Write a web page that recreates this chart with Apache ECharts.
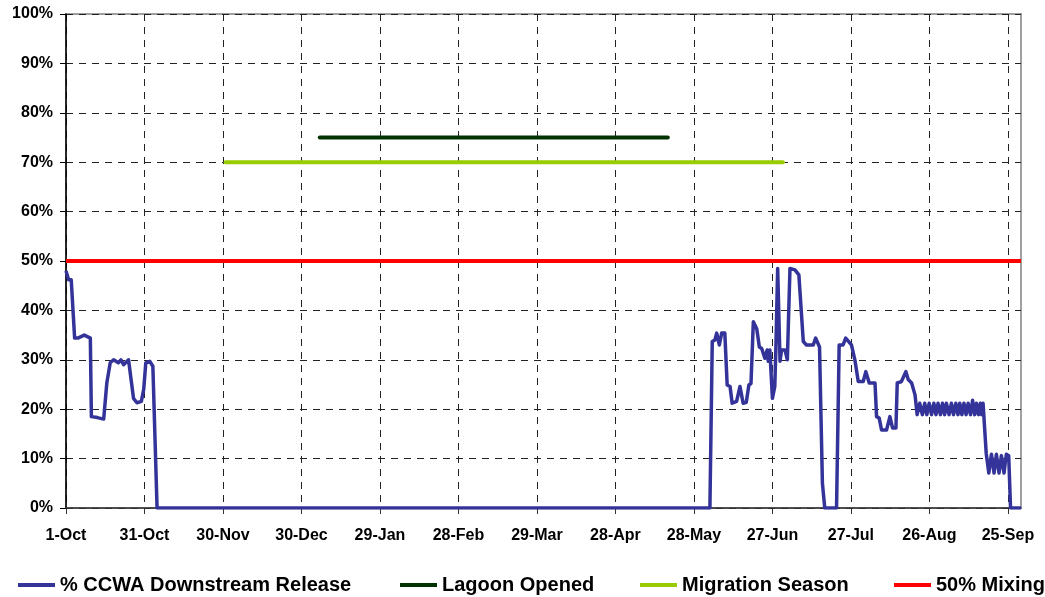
<!DOCTYPE html>
<html>
<head>
<meta charset="utf-8">
<script src="https://cdn.jsdelivr.net/npm/echarts@6/dist/echarts.min.js"></script>
<style>
  html, body { margin: 0; padding: 0; background: #fff; }
  #chart { width: 1045px; height: 597px; }
</style>
</head>
<body>
<div id="chart"></div>
<script>
// days counted from 1-Oct, ticks every 30 days
const tickLabels = ['1-Oct', '31-Oct', '30-Nov', '30-Dec', '29-Jan', '28-Feb', '29-Mar',
  '28-Apr', '28-May', '27-Jun', '27-Jul', '26-Aug', '25-Sep']
const tickDays = tickLabels.map((t, i) => i * 30)

// [day, percent]
const releaseData = [
  [0, 48], [1, 46.2], [2, 46.2], [3.3, 34.4], [4.5, 34.4], [7, 35], [9.3, 34.4],
  [9.7, 18.5], [12, 18.3], [14.4, 18], [15.6, 25.3], [16.9, 29.4], [18.2, 30],
  [20, 29.4], [21, 30], [22, 29], [23.9, 30], [25.8, 22.2], [27.1, 21.3], [28.8, 21.6],
  [29.7, 24], [30.5, 29.4], [32, 29.7], [33.2, 28.7], [34.8, 0],
  [246.1, 0], [247, 33.7], [248, 34], [248.7, 35.4], [249.7, 33], [250.6, 35.4],
  [251.8, 35.4], [252.7, 24.9], [253.8, 24.6], [254.6, 21.2], [256.3, 21.6], [257.6, 24.6],
  [258.8, 21.2], [260, 21.4], [261, 24.9], [261.8, 25.2], [262.7, 37.7], [264, 36.3],
  [265, 32.6], [265.9, 32.3], [267.1, 30.3], [268, 32], [268.4, 29.7], [269, 32],
  [270, 22.2], [270.9, 24.6], [271.3, 32], [272, 48.5], [272.9, 29.7], [273.5, 32],
  [274.8, 32], [275.7, 30], [276.7, 48.5], [278.6, 48.2], [280.1, 47.2], [281.8, 33.7],
  [283, 33], [285.6, 33], [286.5, 34.4], [288, 32.6], [289.1, 5], [290, 0], [294.5, 0],
  [295.5, 33], [297, 33], [298, 34.4], [300.2, 33], [301.5, 30], [302.8, 25.6],
  [304.7, 25.6], [305.7, 27.6], [307, 25.3], [309.2, 25.3], [309.8, 18.5], [310.8, 18.2],
  [311.7, 15.8], [313.6, 15.8], [314.9, 18.5], [315.9, 16.2], [317.2, 16.2], [317.7, 25.3],
  [319.3, 25.6], [321, 27.6], [321.9, 26], [323.2, 25.3], [324.5, 22.9], [325.3, 18.9],
  [326.3, 21.2], [327.3, 18.9], [328.2, 21.2], [329, 18.9], [329.9, 21.2], [330.8, 18.9],
  [331.7, 21.2], [332.5, 18.9], [333.3, 21.2], [334.2, 18.9], [335, 21.2], [335.8, 18.9],
  [336.5, 21.2], [337.5, 18.9], [338.4, 21.2], [339.2, 18.9], [340.1, 21.2], [340.9, 18.9],
  [341.6, 21.2], [342.4, 18.9], [343.2, 21.2], [344, 18.9], [344.8, 21.2], [345.7, 18.9],
  [346.5, 21.8], [347.3, 18.9], [348, 21.2], [348.8, 18.9], [349.5, 21.2], [350, 18.9],
  [350.5, 21.2], [351.7, 11.1], [352.7, 7.1], [353.7, 10.9], [354.7, 7.1], [355.6, 10.9],
  [356.6, 7.1], [357.5, 10.6], [358.5, 7.1], [359.4, 10.9], [360.3, 10.6], [361, 0], [365, 0]
]
const lagoonData = [[97, 75], [230, 75]]
const migrationData = [[61, 70], [274, 70]]
const mixingData = [[0, 50], [365, 50]]

const seriesNames = ['% CCWA Downstream Release', 'Lagoon Opened', 'Migration Season', '50% Mixing']
const seriesColors = ['#333399', '#003300', '#99CC00', '#FF0000']
const legendLefts = [13, 395, 635, 889]

const font = "Arial, 'Liberation Sans', sans-serif"
const myChart = echarts.init(document.getElementById('chart'))

myChart.setOption({
  animation: false,
  grid: {
    left: 66, right: 24, top: 14, bottom: 89,
    show: true, borderColor: '#a0a0a0', borderWidth: 2
  },
  legend: seriesNames.map((name, i) => ({
    data: [name],
    left: legendLefts[i],
    top: 570,
    icon: 'rect',
    itemWidth: 37,
    itemHeight: 4,
    textStyle: { fontFamily: font, fontWeight: 'bold', fontSize: 20, color: '#000' }
  })),
  xAxis: {
    type: 'value',
    min: 0,
    max: 365,
    axisLine: { lineStyle: { color: '#333', width: 1.5 } },
    axisTick: { customValues: tickDays, length: 6, lineStyle: { color: '#333' } },
    axisLabel: {
      customValues: tickDays,
      formatter: v => tickLabels[Math.round(v / 30)],
      margin: 20,
      fontFamily: font, fontWeight: 'bold', fontSize: 16, color: '#000'
    },
    splitLine: { show: true, lineStyle: { color: '#222', type: [7, 6], width: 1 } }
  },
  yAxis: {
    type: 'value',
    min: 0,
    max: 100,
    interval: 10,
    axisLine: { show: true, lineStyle: { color: '#000', width: 1.5 } },
    axisTick: { show: true, length: 6, lineStyle: { color: '#000' } },
    axisLabel: {
      formatter: '{value}%',
      margin: 13,
      fontFamily: font, fontWeight: 'bold', fontSize: 16, color: '#000'
    },
    splitLine: { show: true, lineStyle: { color: '#222', type: [7, 6], width: 1 } }
  },
  series: [
    { name: seriesNames[0], type: 'line', data: releaseData, symbol: 'none',
      color: seriesColors[0], lineStyle: { width: 3.5, join: 'round' } },
    { name: seriesNames[1], type: 'line', data: lagoonData, symbol: 'none',
      color: seriesColors[1], lineStyle: { width: 4, cap: 'round' } },
    { name: seriesNames[2], type: 'line', data: migrationData, symbol: 'none',
      color: seriesColors[2], lineStyle: { width: 4, cap: 'round' } },
    { name: seriesNames[3], type: 'line', data: mixingData, symbol: 'none',
      color: seriesColors[3], lineStyle: { width: 4 } }
  ]
})
</script>
</body>
</html>
